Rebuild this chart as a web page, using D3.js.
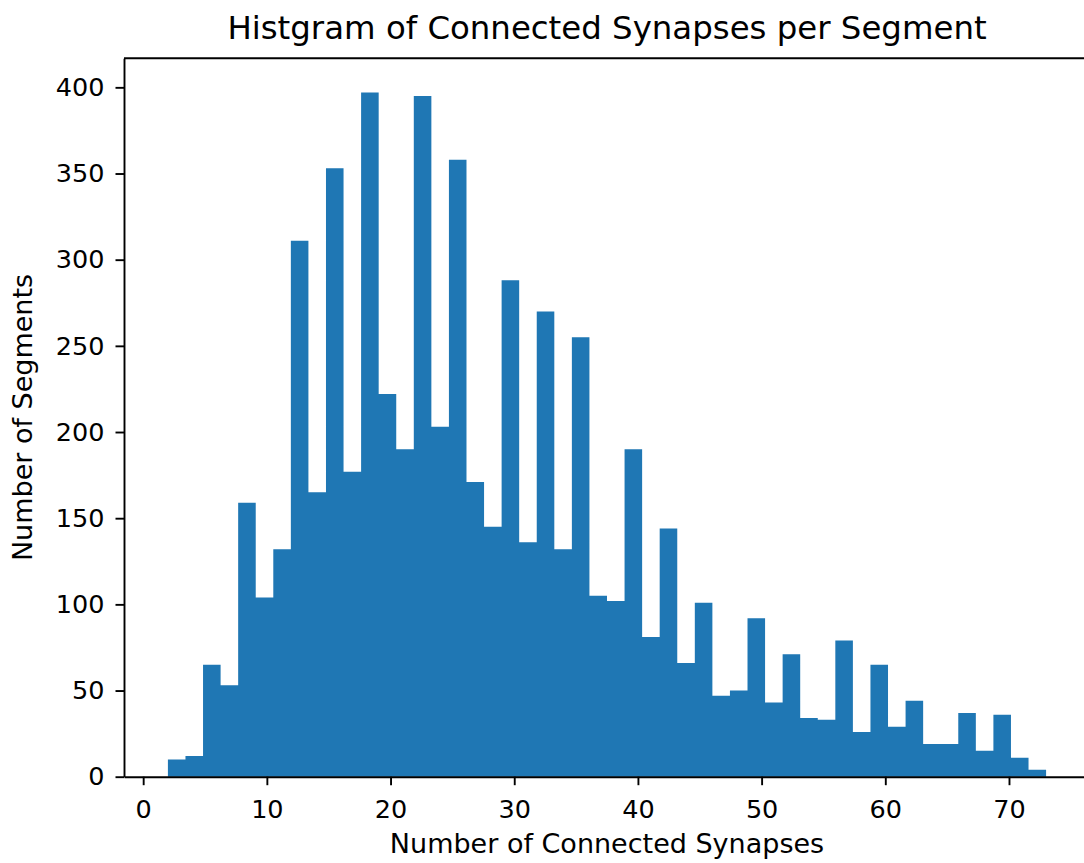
<!DOCTYPE html>
<html>
<head>
<meta charset="utf-8">
<script src="https://cdn.jsdelivr.net/npm/d3@7"></script>
<style>
  body { margin: 0; background: #fff; }
  text { font-family: "DejaVu Sans", sans-serif; fill: #000; }
</style>
</head>
<body>
<svg width="1084" height="863"></svg>
<script>
// histogram: 50 equal bins between binLo and binHi
var binLo = 2,
    binHi = 73;

var counts = [10, 12, 65, 53, 159, 104, 132, 311, 165, 353,
              177, 397, 222, 190, 395, 203, 358, 171, 145, 288,
              136, 270, 132, 255, 105, 102, 190, 81, 144, 66,
              101, 47, 50, 92, 43, 71, 34, 33, 79, 26,
              65, 29, 44, 19, 19, 37, 15, 36, 11, 4];

var xTicks = [0, 10, 20, 30, 40, 50, 60, 70];
var yTicks = [0, 50, 100, 150, 200, 250, 300, 350, 400];

var svg = d3.select("svg"),
    axL = 124, axR = 1090, axT = 58.3, axB = 776.7;

var binW = (binHi - binLo) / counts.length;
var bins = counts.map(function (c, i) {
    return { x0: binLo + i * binW, x1: binLo + (i + 1) * binW, n: c };
});

// matplotlib-like 5% margins
var pad = (binHi - binLo) * 0.05;
var x = d3.scaleLinear().domain([binLo - pad, binHi + pad]).range([axL, axR]);
var y = d3.scaleLinear().domain([0, d3.max(counts) * 1.05]).range([axB, axT]);

// bars drawn as one stepped outline so adjacent bins don't leave seams
var steps = bins.map(function (d) { return { x: d.x0, n: d.n }; });
steps.push({ x: bins[bins.length - 1].x1, n: bins[bins.length - 1].n });

var area = d3.area()
    .curve(d3.curveStepAfter)
    .x(function (d) { return x(d.x); })
    .y0(y(0))
    .y1(function (d) { return y(d.n); });

svg.append("path")
    .datum(steps)
    .attr("d", area)
    .attr("fill", "#1f77b4");

var tickLen = 8.5, lw = 1.9, tickFont = 25.5;

var xAxis = svg.append("g")
    .attr("transform", "translate(0," + axB + ")")
    .call(d3.axisBottom(x).tickValues(xTicks).tickSize(tickLen).tickSizeOuter(0).tickPadding(9));

var yAxis = svg.append("g")
    .attr("transform", "translate(" + axL + ",0)")
    .call(d3.axisLeft(y).tickValues(yTicks).tickSize(tickLen).tickSizeOuter(0).tickPadding(11));

[xAxis, yAxis].forEach(function (a) {
    a.attr("font-size", null).attr("font-family", null);
    a.selectAll("path.domain").attr("stroke", "#000").attr("stroke-width", lw);
    a.selectAll(".tick line").attr("stroke", "#000").attr("stroke-width", lw);
    a.selectAll(".tick text")
        .style("font-size", tickFont + "px")
        .attr("fill", "#000");
});
xAxis.selectAll(".tick text").attr("dy", "0.92em");

// top and right spines
svg.append("line")
    .attr("x1", axL).attr("x2", axR)
    .attr("y1", axT).attr("y2", axT)
    .attr("stroke", "#000").attr("stroke-width", lw);
svg.append("line")
    .attr("x1", axR).attr("x2", axR)
    .attr("y1", axT).attr("y2", axB)
    .attr("stroke", "#000").attr("stroke-width", lw);

svg.append("text")
    .attr("x", (axL + axR) / 2)
    .attr("y", 39)
    .attr("text-anchor", "middle")
    .style("font-size", "32.4px")
    .text("Histgram of Connected Synapses per Segment");

svg.append("text")
    .attr("x", (axL + axR) / 2)
    .attr("y", 853)
    .attr("text-anchor", "middle")
    .style("font-size", "27px")
    .text("Number of Connected Synapses");

svg.append("text")
    .attr("transform", "translate(32," + (axT + axB) / 2 + ") rotate(-90)")
    .attr("text-anchor", "middle")
    .style("font-size", "27px")
    .text("Number of Segments");
</script>
</body>
</html>
